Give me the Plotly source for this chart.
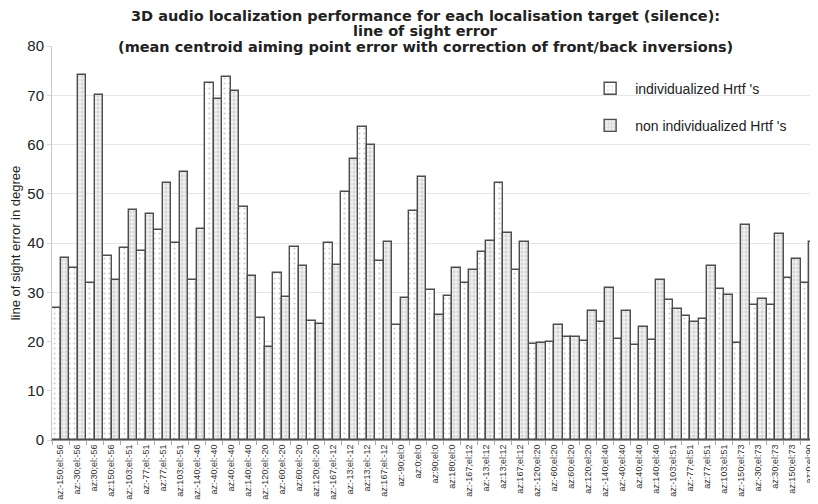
import plotly.graph_objects as go

categories = [
    "az:-150;el:-56", "az:-30;el:-56", "az:30;el:-56", "az:150;el:-56",
    "az:-103;el:-51", "az:-77;el:-51", "az:77;el:-51", "az:103;el:-51",
    "az:-140;el:-40", "az:-40;el:-40", "az:40;el:-40", "az:140;el:-40",
    "az:-120;el:-20", "az:-60;el:-20", "az:60;el:-20", "az:120;el:-20",
    "az:-167;el:-12", "az:-13;el:-12", "az:13;el:-12", "az:167;el:-12",
    "az:-90;el:0", "az:0;el:0", "az:90;el:0", "az:180;el:0",
    "az:-167;el:12", "az:-13;el:12", "az:13;el:12", "az:167;el:12",
    "az:-120;el:20", "az:-60;el:20", "az:60;el:20", "az:120;el:20",
    "az:-140;el:40", "az:-40;el:40", "az:40;el:40", "az:140;el:40",
    "az:-103;el:51", "az:-77;el:51", "az:77;el:51", "az:103;el:51",
    "az:-150;el:73", "az:-30;el:73", "az:30;el:73", "az:150;el:73",
    "az:0;el:90",
]

individualized = [
    26.9, 34.9, 31.8, 37.4,
    38.9, 38.3, 42.7, 39.9,
    32.4, 72.4, 73.8, 47.3,
    24.8, 34.0, 39.2, 24.1,
    40.1, 50.4, 63.5, 36.3,
    23.4, 46.5, 30.4, 29.3,
    31.8, 38.1, 52.2, 34.6,
    19.4, 19.8, 20.9, 20.1,
    23.9, 20.5, 19.3, 20.4,
    28.4, 25.2, 24.5, 30.7,
    19.7, 27.4, 27.5, 32.8,
    31.9,
]

non_individualized = [
    37.0, 74.1, 70.0, 32.5,
    46.8, 45.9, 52.2, 54.5,
    42.9, 69.3, 70.8, 33.4,
    18.8, 29.0, 35.3, 23.6,
    35.6, 57.1, 59.9, 40.3,
    28.8, 53.4, 25.3, 34.9,
    34.6, 40.5, 42.0, 40.2,
    19.6, 23.3, 21.0, 26.1,
    30.9, 26.2, 23.0, 32.4,
    26.7, 23.9, 35.3, 29.5,
    43.6, 28.7, 41.8, 36.7,
    40.2,
]

y_ticks = [0, 10, 20, 30, 40, 50, 60, 70, 80]

title_lines = [
    "3D audio localization performance for each localisation target (silence):",
    "line of sight error",
    "(mean centroid aiming point error with correction of front/back inversions)",
]

outline = "#4d4d4d"
FONT = "Liberation Sans, Arial, sans-serif"

fig = go.Figure()
fig.add_trace(go.Bar(
    x=categories, y=individualized, name="individualized Hrtf 's",
    legendgroup="ind",
    marker=dict(color="white",
                line=dict(color=outline, width=1.4),
                pattern=dict(shape=".", fgcolor="#999999", bgcolor="white",
                             size=5, solidity=0.15)),
))
fig.add_trace(go.Bar(
    x=categories, y=non_individualized, name="non individualized Hrtf 's",
    legendgroup="non",
    marker=dict(color="white",
                line=dict(color=outline, width=1.4),
                pattern=dict(shape="+", fgcolor="#a0a0a0", bgcolor="#f4f4f4",
                             size=4, solidity=0.35)),
))

# title as three annotation lines (tighter line spacing than Plotly's title)
title_y = [1.077, 1.038, 0.998]
for txt, yy in zip(title_lines, title_y):
    fig.add_annotation(
        text=f"<b>{txt}</b>", xref="paper", yref="paper",
        x=0.487, y=yy, xanchor="center", yanchor="middle", showarrow=False,
        font=dict(size=14.5, color="#222", family="DejaVu Sans, sans-serif"),
    )

# The page body adds an 8px margin; figure size and margins compensate for it.
fig.update_layout(
    width=810, height=496,
    margin=dict(l=44, r=0, t=38, b=64, autoexpand=False),
    paper_bgcolor="white", plot_bgcolor="white",
    barmode="group", bargap=0, bargroupgap=0,
    font=dict(family=FONT, color="#222"),
    legend=dict(
        x=0.696, y=0.9325, xanchor="left", yanchor="top",
        font=dict(size=14, color="#222"),
        bgcolor="rgba(255,255,255,0)",
        tracegroupgap=16, itemwidth=40,
    ),
    xaxis=dict(
        type="category", range=[-0.5, 44.5], automargin=False,
        tickmode="array", tickvals=categories, ticktext=categories,
        showgrid=False, showline=True, linecolor="#999", linewidth=1,
        ticks="outside", tickson="boundaries", ticklen=4, tickcolor="#aaa",
        tickangle=-90, tickfont=dict(size=9, color="#333"),
        ticklabeloverflow="allow",
    ),
    yaxis=dict(
        range=[0, 80], tickvals=y_ticks, automargin=False,
        showgrid=True, gridcolor="#e6e6e6", gridwidth=1,
        showline=True, linecolor="#c8c8c8", linewidth=1,
        ticks="outside", ticklen=4, tickcolor="#d8d8d8",
        tickfont=dict(size=15, color="#222"),
        title=dict(text="line of sight error in degree", font=dict(size=13, color="#222"), standoff=6),
        zeroline=False,
    ),
)

fig.write_html("out.html")
